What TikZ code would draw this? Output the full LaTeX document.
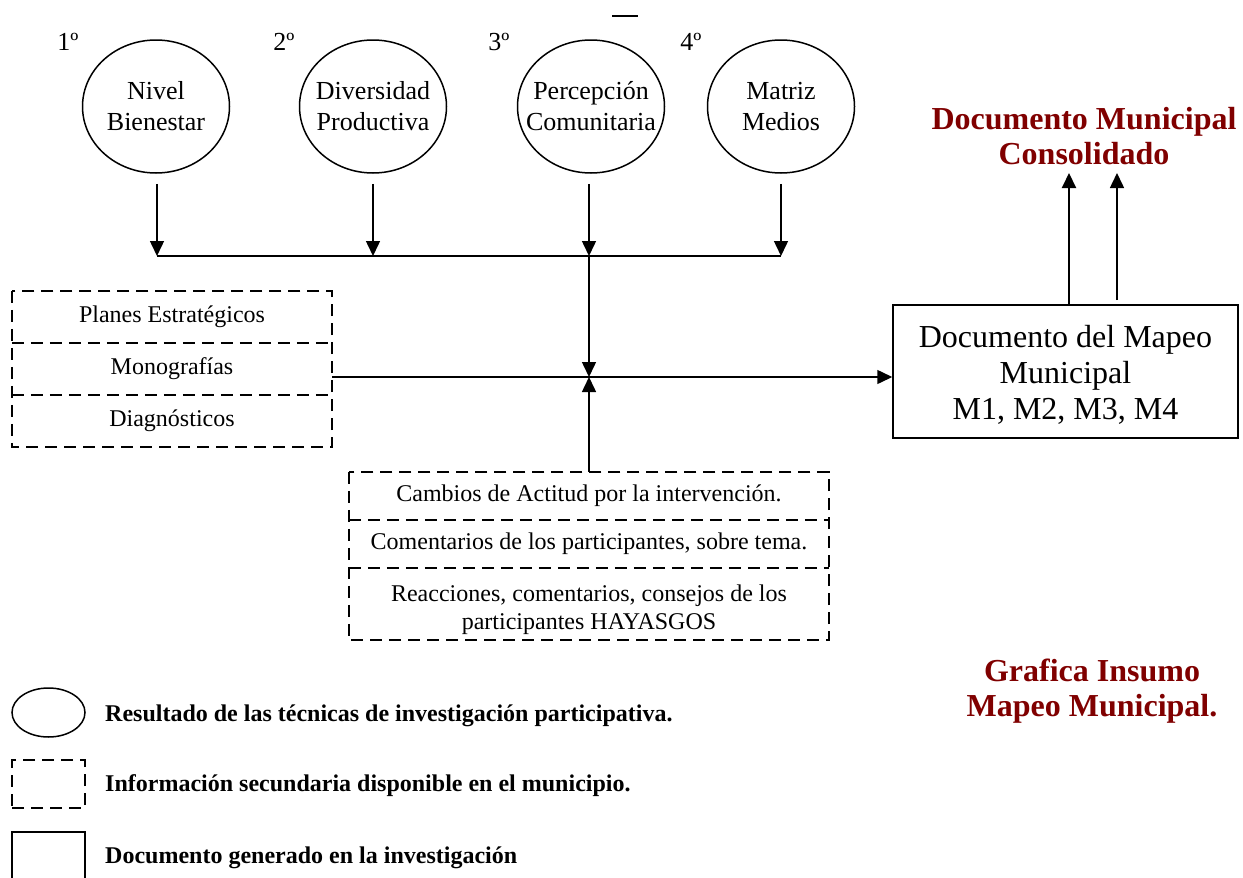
\documentclass[tikz,border=0pt]{standalone}
\usepackage{fontspec}
\setmainfont{Liberation Serif}
\usetikzlibrary{arrows.meta,shapes.geometric,calc}
\definecolor{darkred}{RGB}{128,0,0}
\begin{document}
\begin{tikzpicture}[x=1pt,y=-1pt,
  oval/.style={draw,ellipse,line width=1.5pt,minimum width=147pt,minimum height=133pt,inner xsep=-30pt,inner ysep=-10pt,align=center,font=\fontsize{26}{31}\selectfont},
  num/.style={font=\fontsize{26}{31}\selectfont},
  dashline/.style={dash pattern=on 12pt off 7pt,line width=1.5pt},
  cell/.style={align=center,inner sep=0pt,font=\fontsize{24}{28}\selectfont},
  arr/.style={line width=1.5pt,-{Triangle[length=15pt,width=14pt]}},
  redtitle/.style={font=\bfseries\fontsize{32}{35}\selectfont,text=darkred,align=center},
  legtext/.style={anchor=west,font=\bfseries\fontsize{24}{28}\selectfont,inner sep=0pt}
]
\useasboundingbox (0,0) rectangle (1243,878);

% small dash at top
\coordinate (dA) at (612,15.5);
\coordinate (dB) at (638,15.5);
\draw[line width=2pt] (dA) -- (dB);

% ordinal labels
\node[num] (n1) at (68,42) {1º};
\node[num] (n2) at (284,42) {2º};
\node[num] (n3) at (499,42) {3º};
\node[num] (n4) at (691,42) {4º};

% ovals
\node[oval] (o1) at (156,106.5) {Nivel\\Bienestar};
\node[oval] (o2) at (373,106.5) {Diversidad\\Productiva};
\node[oval] (o3) at (591,106.5) {Percepción\\Comunitaria};
\node[oval] (o4) at (781,106.5) {Matriz\\Medios};

% collector bar and junction
\coordinate (barL) at (157,256);
\coordinate (barR) at (781,256);
\coordinate (j) at (589,377);
\draw[line width=2.5pt] (barL) -- (barR);

\draw[arr,shorten <=10pt] (barL |- o1.south) -- (barL);
\draw[arr,shorten <=10pt] (o2.south) -- (o2.south |- barL);
\draw[arr,shorten <=10pt] (j |- o3.south) -- (j |- barL);
\draw[arr,shorten <=10pt] (barR |- o4.south) -- (barR);
\draw[arr] (j |- barL) -- (j);

% secondary info boxes (left)
\node[cell,minimum width=320pt,minimum height=52pt] (g1a) at (172,317) {Planes Estratégicos};
\node[cell,minimum width=320pt,minimum height=52pt] (g1b) at (172,369) {Monografías};
\node[cell,minimum width=320pt,minimum height=52pt] (g1c) at (172,421) {Diagnósticos};
\draw[dashline] (g1a.north west) rectangle (g1c.south east);
\draw[dashline] (g1a.south west) -- (g1a.south east);
\draw[dashline] (g1b.south west) -- (g1b.south east);

% secondary info boxes (bottom)
\node[cell,minimum width=480pt,minimum height=48pt] (g2a) at (589,496) {Cambios de Actitud por la intervención.};
\node[cell,minimum width=480pt,minimum height=48pt] (g2b) at (589,544) {Comentarios de los participantes, sobre tema.};
\node[cell,minimum width=480pt,minimum height=60pt] (g2c) at (589,610) {Reacciones, comentarios, consejos de los\\participantes HAYASGOS};
\draw[dashline] (g2a.north west) rectangle (g2c.south east);
\draw[dashline] (g2a.south west) -- (g2a.south east);
\draw[dashline] (g2b.south west) -- (g2b.south east);

% document box
\node[draw,line width=1.5pt,minimum width=345pt,minimum height=133pt,align=center,font=\fontsize{32}{36}\selectfont] (doc) at (1065.5,371.5) {};
\node[align=center,font=\fontsize{32}{36}\selectfont] (doctext) at (1065.5,374.5) {Documento del Mapeo\\Municipal\\M1, M2, M3, M4};

\draw[arr] (g2a.north -| j) -- (j);
\draw[arr] (g1b.east |- j) -- (j -| doc.west);

% consolidated document
\node[redtitle] (t1) at (1084,136) {Documento Municipal\\Consolidado};
\coordinate (u1) at (1069,173);
\coordinate (u2) at (1117,173);
\coordinate (u2s) at (1117,300);
\draw[arr,line width=2pt] (u1 |- doc.north) -- (u1);
\draw[arr] (u2s) -- (u2);

\node[redtitle] (t2) at (1092,691) {Grafica Insumo\\Mapeo Municipal.};

% legend
\node[draw,ellipse,line width=1.5pt,minimum width=73pt,minimum height=49pt,inner sep=0pt] (l1) at (48.5,712.5) {};
\node[draw,dashline,minimum width=73pt,minimum height=48pt,inner sep=0pt] (l2) at (48.5,784) {};
\node[draw,line width=1.5pt,minimum width=73pt,minimum height=52pt,inner sep=0pt] (l3) at (48.5,858) {};
\node[legtext] (lt1) at (105,716) {Resultado de las técnicas de investigación participativa.};
\node[legtext] (lt2) at (105,786) {Información secundaria disponible en el municipio.};
\node[legtext] (lt3) at (105,858) {Documento generado en la investigación};
\end{tikzpicture}
\end{document}
